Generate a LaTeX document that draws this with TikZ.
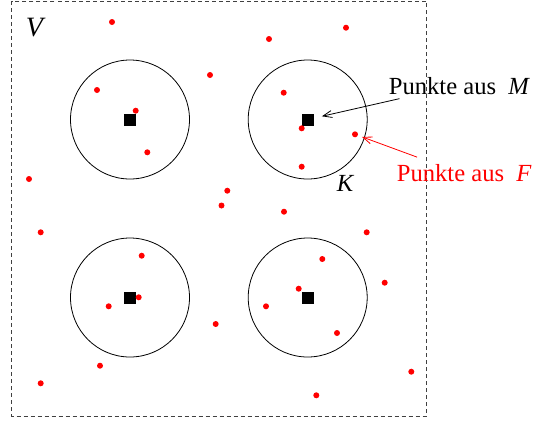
\documentclass[tikz,border=0pt]{standalone}
\usepackage{fontspec}
\setmainfont{Liberation Serif}
\usetikzlibrary{positioning,arrows.meta}

\begin{document}
\begin{tikzpicture}[
        x=0.5pt, y=-0.5pt,
        frame/.style={
            draw=black!75,
            dash pattern=on 2pt off 1.5pt
        },
        ball/.style={
            circle,
            draw,
            minimum size=59.5pt,
            inner sep=0pt
        },
        center/.style={
            rectangle,
            fill=black,
            minimum size=6pt,
            inner sep=0pt
        },
        dot/.style={
            circle,
            fill=red,
            minimum size=3pt,
            inner sep=0pt
        },
        txt/.style={
            anchor=base west,
            inner sep=0pt,
            font=\fontsize{12.3}{14}\selectfont
        },
        arrow/.style={
            -{Straight Barb[length=4.5pt,width=3.5pt]},
            thin
        }
    ]
    \useasboundingbox (0,0) rectangle (536,420);

    % Set V
    \draw[frame] (11.5,1) rectangle (426.5,416);
    \node[font=\fontsize{14}{16}\selectfont\itshape] (setV) at (34.5,27.5) {V};

    % Balls K with their centres (points of M)
    \node[ball] (k1) at (130,119.5) {};
    \node[ball] (k2) at (307.7,119.5) {};
    \node[ball] (k3) at (130,297.5) {};
    \node[ball] (k4) at (307.7,297.5) {};
    \node[center] (m1) at (k1) {};
    \node[center] (m2) at (k2) {};
    \node[center] (m3) at (k3) {};
    \node[center] (m4) at (k4) {};
    \node[font=\fontsize{12.3}{14}\selectfont\itshape] (ballK) at (345,183) {K};

    % Points of F
    \foreach \x/\y [count=\i] in {112/22, 269/39, 346/27.7, 210/75, 97/90,
            135.7/110.7, 147.3/152.3, 29/179, 227.3/190.7, 221.5/205.5,
            283.7/92.7, 301.7/128.3, 355/134.3, 301.7/166.7, 40.7/232.3,
            141.7/255.7, 138.7/297.3, 108.7/306.3, 215.7/324, 100/365.7,
            40.7/383.3, 284/211.7, 366.7/232.3, 322.3/259, 384.7/282.7,
            298.7/288.7, 266/306.3, 337/333, 411.3/371.7, 316.3/395.3}
        \node[dot] (f\i) at (\x,\y) {};

    % Labels
    \node[txt] (labelM) at (388.5,94) {Punkte aus \ \textit{M}};
    \node[txt, text=red] (labelF) at (396.5,181) {Punkte aus \ \textit{F}};

    % Connections
    \draw[arrow, shorten >=4pt] ([xshift=5.5pt,yshift=-2pt]labelM.south west) -- (m2);
    \draw[arrow, red, shorten >=2pt] ([xshift=10.3pt,yshift=3.2pt]labelF.north west) -- (f13);

\end{tikzpicture}
\end{document}
